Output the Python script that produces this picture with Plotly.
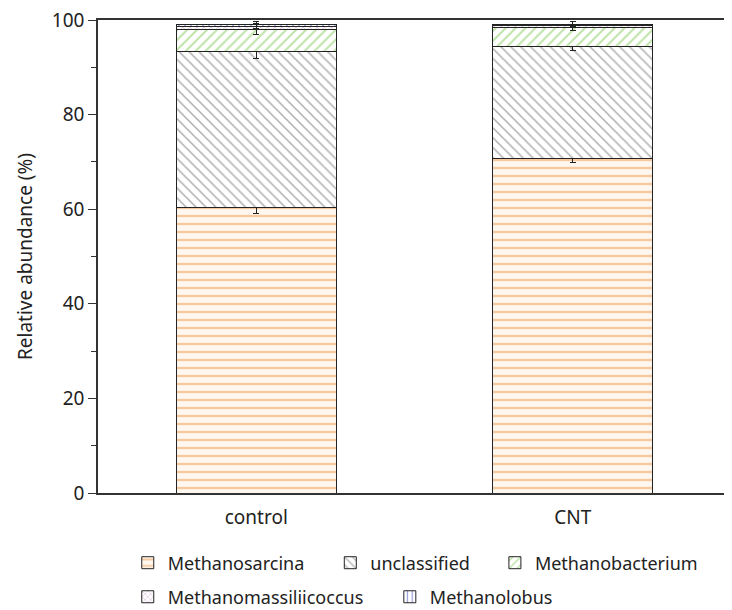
import plotly.graph_objects as go

samples = ["control", "CNT"]
taxa = ["Methanosarcina", "unclassified", "Methanobacterium",
        "Methanomassiliicoccus", "Methanolobus"]
methanosarcina = [60.3, 70.8]
unclassified = [33.1, 23.7]
methanobacterium = [4.5, 3.9]
methanomassiliicoccus = [0.8, 0.35]
methanolobus = [0.4, 0.4]
err_methanosarcina = [1.2, 0.9]
err_unclassified = [1.5, 1.0]
err_methanobacterium = [1.0, 0.6]
err_methanomassiliicoccus = [0.5, 0.4]
err_methanolobus = [0.5, 0.5]

values = [methanosarcina, unclassified, methanobacterium, methanomassiliicoccus, methanolobus]
errors = [err_methanosarcina, err_unclassified, err_methanobacterium,
          err_methanomassiliicoccus, err_methanolobus]
legend_ids = ["legend", "legend2", "legend3", "legend4", "legend5"]
legend_x = [0.047, 0.367, 0.627, 0.047, 0.461]
legend_y = [-0.148, -0.148, -0.148, -0.22, -0.22]
styles = [
    dict(shape="-", fg="#f09a50", bg="#fff8f0", size=8, solid=0.3),
    dict(shape="\\", fg="#606060", bg="#ffffff", size=7, solid=0.22),
    dict(shape="/", fg="#7cc850", bg="#ffffff", size=7, solid=0.28),
    dict(shape="x", fg="#b070b0", bg="#ffffff", size=5, solid=0.25),
    dict(shape="|", fg="#2a3aa8", bg="#ffffff", size=6, solid=0.25),
]

fig = go.Figure()
for name, vals, errs, st, lg in zip(taxa, values, errors, styles, legend_ids):
    fig.add_trace(go.Bar(
        x=samples, y=vals, name=name, legend=lg,
        marker=dict(
            color=st["bg"],
            line=dict(color="#222222", width=1),
            pattern=dict(shape=st["shape"], fgcolor=st["fg"], bgcolor=st["bg"],
                         size=st["size"], solidity=st["solid"], fillmode="overlay"),
        ),
        error_y=dict(type="data", array=errs, color="#222222", thickness=1, width=3),
    ))

font = "Noto Sans, Open Sans, sans-serif"
legends = {}
for lg, lx, ly in zip(legend_ids, legend_x, legend_y):
    legends[lg] = dict(orientation="h", x=lx, xanchor="left", y=ly, yanchor="middle",
                       font=dict(size=18), bgcolor="rgba(0,0,0,0)")

fig.update_layout(
    width=724, height=602,
    barmode="stack", bargap=0.495,
    plot_bgcolor="white", paper_bgcolor="white",
    margin=dict(l=90, r=1, t=12, b=117, autoexpand=False),
    font=dict(family=font, size=18, color="#222222"),
    xaxis=dict(showline=True, linecolor="#333333", linewidth=1.5, mirror=True,
               ticks="outside", ticklen=6, tickcolor="rgba(0,0,0,0)",
               tickfont=dict(size=19)),
    yaxis=dict(range=[0, 100], showline=True, linecolor="#333333", linewidth=1.5,
               ticks="outside", tickvals=[0, 20, 40, 60, 80, 100], ticklen=8,
               tickcolor="#333333", showgrid=False, zeroline=False,
               ticklabeloverflow="allow",
               minor=dict(tickvals=[10, 30, 50, 70, 90], ticks="outside", ticklen=5,
                          tickcolor="#333333"),
               title=dict(text="Relative abundance (%)", font=dict(size=19), standoff=14),
               tickfont=dict(size=19)),
    showlegend=True,
    **legends,
)

fig.write_html("out.html")
